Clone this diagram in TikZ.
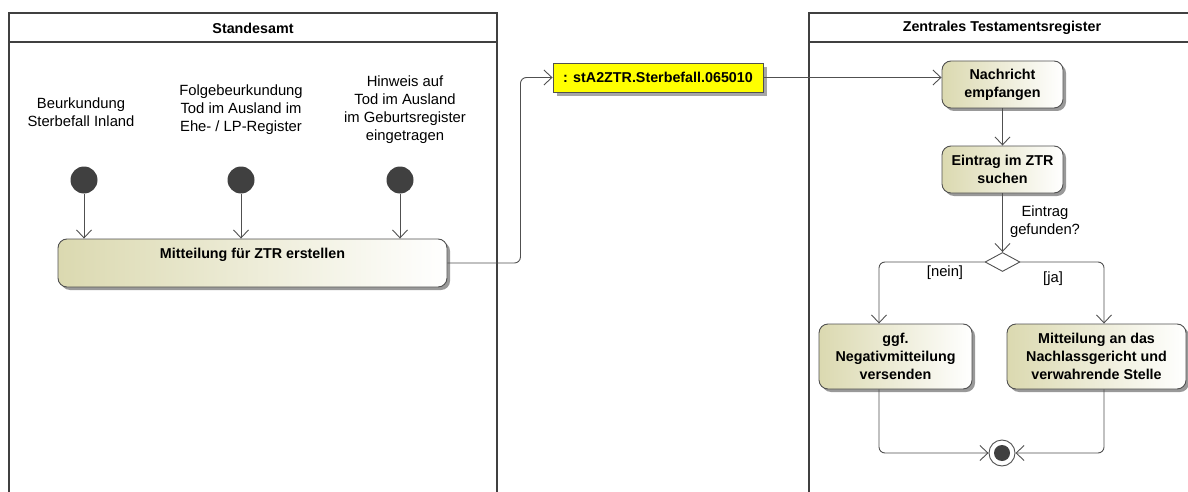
\documentclass[tikz,border=0pt]{standalone}
\usepackage{fontspec}
\setmainfont{Liberation Sans}
\usetikzlibrary{arrows.meta,shapes.geometric,shadows}
\definecolor{laneline}{RGB}{64,64,64}
\definecolor{boxline}{RGB}{80,80,80}
\definecolor{boxolive}{RGB}{219,217,176}
\definecolor{initfill}{RGB}{64,64,64}
\definecolor{objyellow}{RGB}{255,255,0}
\begin{document}
\begin{tikzpicture}[x=1pt,y=-1pt,
  lane/.style={draw=laneline,line width=1.6pt},
  lanetitle/.style={font=\bfseries\fontsize{14.3}{16}\selectfont},
  txt/.style={align=center,font=\fontsize{14.8}{18}\selectfont,inner sep=0},
  act/.style={draw=boxline,line width=0.9pt,rounded corners=9pt,left color=boxolive,right color=white,
    drop shadow={shadow xshift=3pt,shadow yshift=-3pt,fill=black!40,opacity=1},
    align=center,font=\bfseries\fontsize{14.3}{18}\selectfont,inner sep=0},
  obj/.style={draw=boxline,line width=0.9pt,fill=objyellow,
    drop shadow={shadow xshift=4pt,shadow yshift=-4pt,fill=black!35,opacity=1},
    font=\bfseries\fontsize{14.3}{16}\selectfont,inner sep=0},
  init/.style={circle,fill=initfill,minimum size=27pt,inner sep=0},
  arr/.style={draw=boxline,line width=0.9pt,-{Straight Barb[length=8pt,width=15pt]}},
  flow/.style={draw=boxline,line width=0.9pt}
]
\useasboundingbox (0,0) rectangle (1188,492);
% lanes
\draw[lane] (9,495) -- (9,13) -- (497,13) -- (497,495);
\draw[lane] (9,42) -- (497,42);
\node[lanetitle] (l1) at (253,28) {Standesamt};
\draw[lane] (809,495) -- (809,13) -- (1195,13);
\draw[lane] (809,42) -- (1195,42);
\node[lanetitle] (l2) at (1002,28) {Zentrales Testamentsregister};
% left lane texts
\node[txt] (t1) at (81,112) {Beurkundung\\Sterbefall Inland};
\node[txt] (t2) at (241,110) {Folgebeurkundung\\Tod im Ausland im\\Ehe- / LP-Register};
\node[txt] (t3) at (405,110) {Hinweis auf\\Tod im Ausland\\im Geburtsregister\\eingetragen};
% initial nodes
\node[init] (i1) at (84,180) {};
\node[init] (i2) at (241,180) {};
\node[init] (i3) at (400,180) {};
% main action
\node[act,minimum width=389pt,minimum height=48pt] (mzt) at (252.5,263) {};
\node[txt,font=\bfseries\fontsize{14.3}{18}\selectfont] (mztl) at (252.5,255) {Mitteilung für ZTR erstellen};
\draw[arr] (i1) -- (i1 |- mzt.north);
\draw[arr] (i2) -- (i2 |- mzt.north);
\draw[arr] (i3) -- (i3 |- mzt.north);
% object
\node[obj,minimum width=210pt,minimum height=29pt] (ob) at (658,77.5) {: stA2ZTR.Sterbefall.065010};
\draw[arr,rounded corners=6pt] (mzt.east) -- ++(73,0) |- (ob.west);
% right lane
\node[act,minimum width=121pt,minimum height=47pt] (nach) at (1002.5,84.5) {Nachricht\\empfangen};
\draw[arr] (ob.east) -- (ob.east -| nach.west);
\node[act,minimum width=121pt,minimum height=47pt] (such) at (1002.5,169.5) {Eintrag im ZTR\\suchen};
\draw[arr] (nach) -- (such);
\node[diamond,draw=boxline,line width=0.9pt,fill=white,minimum width=35pt,minimum height=19pt,inner sep=0] (dec) at (1002.5,262) {};
\draw[arr] (such) -- (dec);
\node[txt] (dl) at (1045,222) {Eintrag\\gefunden?};
\node[act,minimum width=153pt,minimum height=65pt] (ggf) at (895.5,356.5) {ggf.\\Negativmitteilung\\versenden};
\node[act,minimum width=179pt,minimum height=65pt] (mit) at (1096.5,356.5) {Mitteilung an das\\Nachlassgericht und\\verwahrende Stelle};
\draw[arr,rounded corners=6pt] (dec.west) -| ([xshift=-16.5pt]ggf.north);
\draw[arr,rounded corners=6pt] (dec.east) -| ([xshift=7.5pt]mit.north);
\node[txt] (nein) at (945,273) {[nein]};
\node[txt] (ja) at (1053,279) {[ja]};
% final node
\node[circle,draw=boxline,line width=0.9pt,fill=white,minimum size=26pt,inner sep=0] (fin) at (1002,453) {};
\node[circle,fill=initfill,minimum size=16pt,inner sep=0] (finin) at (fin.center) {};
\draw[arr,rounded corners=6pt] ([xshift=-16.5pt]ggf.south) |- (fin.west);
\draw[arr,rounded corners=6pt] ([xshift=7.5pt]mit.south) |- (fin.east);
\end{tikzpicture}
\end{document}
